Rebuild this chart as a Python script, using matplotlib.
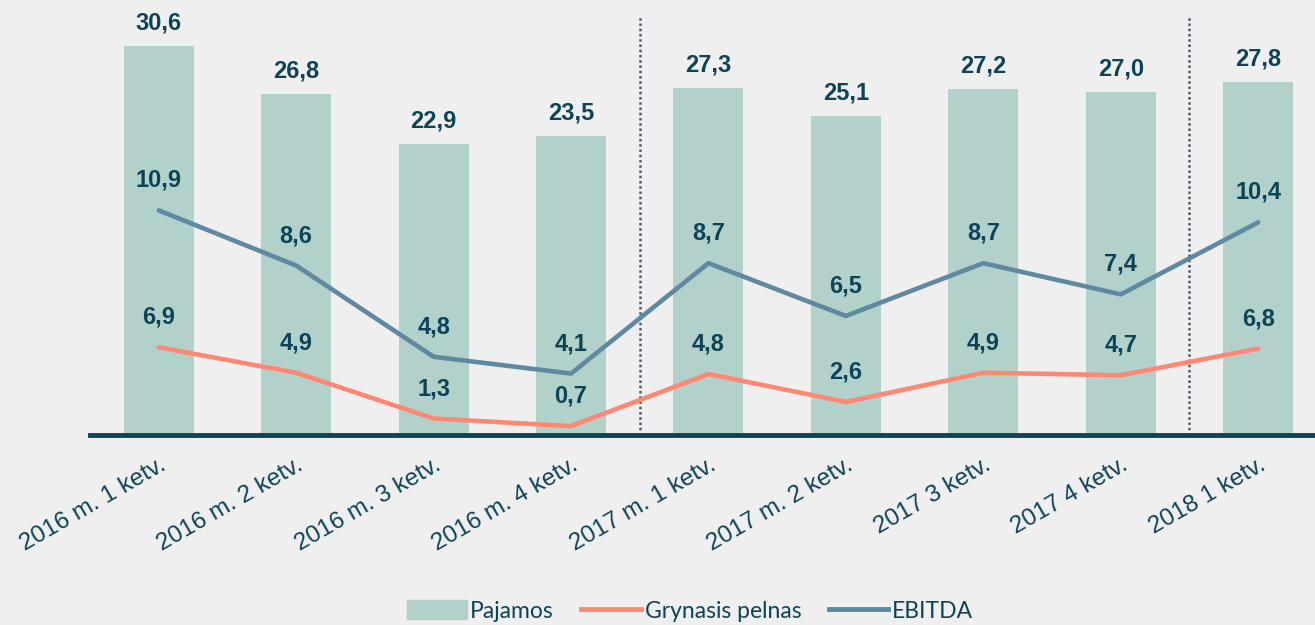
import numpy as np
import matplotlib.pyplot as plt
from matplotlib.patches import Patch
from matplotlib.lines import Line2D

quarters = ["2016 m. 1 ketv.", "2016 m. 2 ketv.", "2016 m. 3 ketv.", "2016 m. 4 ketv.",
            "2017 m. 1 ketv.", "2017 m. 2 ketv.", "2017 3 ketv.", "2017 4 ketv.", "2018 1 ketv."]
pajamos = [30.6, 26.8, 22.9, 23.5, 27.3, 25.1, 27.2, 27.0, 27.8]
grynasis_pelnas = [6.9, 4.9, 1.3, 0.7, 4.8, 2.6, 4.9, 4.7, 6.8]
ebitda = [10.9, 8.6, 4.8, 4.1, 8.7, 6.5, 8.7, 7.4, 10.4]
year_breaks = [3.5, 7.5]

BG = "#efefef"
BAR = "#b1d1ca"
RED = "#ff8873"
BLUE = "#5f88a1"
DARK = "#0d4356"

plt.rcParams["font.family"] = ["Liberation Sans", "DejaVu Sans"]

fig = plt.figure(figsize=(13.15, 6.25), dpi=100, facecolor=BG)
ax = fig.add_axes([90 / 1315, 1 - 435 / 625, 1 - 90 / 1315, 420 / 625])
ax.set_facecolor(BG)
x = np.arange(len(quarters))

ax.bar(x, pajamos, width=0.51, color=BAR, zorder=1)
ax.plot(x, grynasis_pelnas, color=RED, lw=3.3, zorder=3, solid_capstyle="round")
ax.set_ylim(0, 420 / 12.71)
ax.set_xlim(-0.5, (1315 - 159) / 137.4)

for xb in year_breaks:
    ax.axvline(xb, color="#4c5d6e", lw=1.8, ls=(0, (1, 1.1)), zorder=0)

ax2 = ax.twinx()
ax2.plot(x, ebitda, color=BLUE, lw=3.3, zorder=3, solid_capstyle="round")
ax2.set_ylim(1.54, 1.54 + 420 / 24.0)
ax2.axis("off")

for xi, v in zip(x, pajamos):
    ax.annotate(f"{v:.1f}".replace(".", ","), (xi, v), xytext=(0, 16.5), textcoords="offset points",
                ha="center", va="center", fontsize=17, fontweight="bold", color=DARK)
for xi, v in zip(x, grynasis_pelnas):
    ax.annotate(f"{v:.1f}".replace(".", ","), (xi, v), xytext=(0, 21.5), textcoords="offset points",
                ha="center", va="center", fontsize=17, fontweight="bold", color=DARK, zorder=5)
for xi, v in zip(x, ebitda):
    ax2.annotate(f"{v:.1f}".replace(".", ","), (xi, v), xytext=(0, 21.5), textcoords="offset points",
                 ha="center", va="center", fontsize=17, fontweight="bold", color=DARK, zorder=5)

for s in ["top", "right", "left"]:
    ax.spines[s].set_visible(False)
ax.spines["bottom"].set_color(DARK)
ax.spines["bottom"].set_linewidth(3.5)
ax.set_yticks([])
ax.set_xticks(x)
ax.set_xticklabels(quarters, rotation=30, ha="right", rotation_mode="anchor",
                   fontsize=17.5, color=DARK)
ax.tick_params(axis="x", length=0, pad=14)

handles = [Patch(color=BAR, label="Pajamos"),
           Line2D([], [], color=RED, lw=3.5, label="Grynasis pelnas"),
           Line2D([], [], color=BLUE, lw=3.5, label="EBITDA")]
fig.legend(handles=handles, loc="center", bbox_to_anchor=(690 / 1315, 1 - 611 / 625), ncol=3,
           frameon=False, prop={"family": "Lato", "size": 16.5}, labelcolor=DARK,
           handlelength=2.6, handletextpad=0.15, columnspacing=1.2, handleheight=0.9)

fig.savefig("out.png", dpi=100, facecolor=BG)
